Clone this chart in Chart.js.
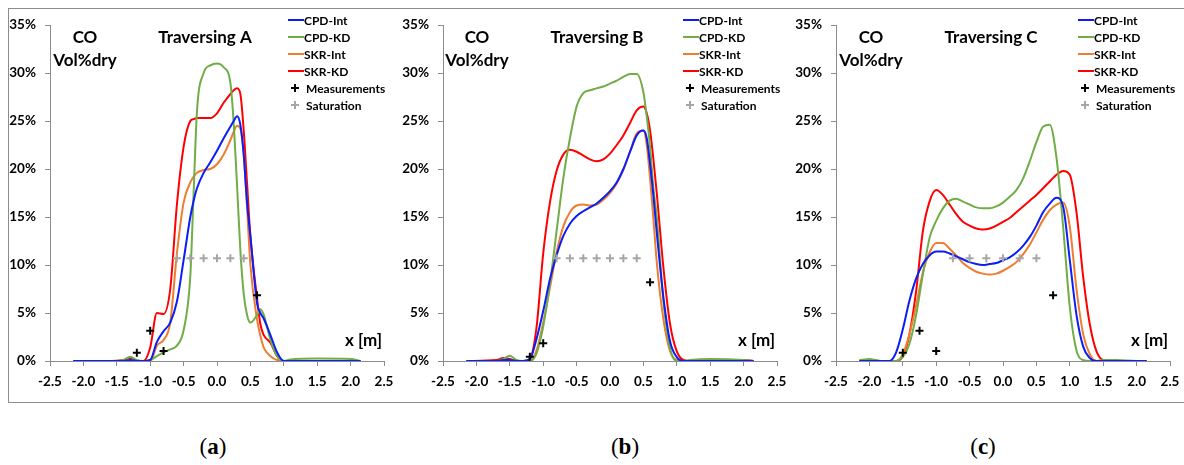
<!DOCTYPE html>
<html>
<head>
<meta charset="utf-8">
<script src="https://cdn.jsdelivr.net/npm/chart.js@4.4.0/dist/chart.umd.min.js"></script>
<style>
    body { margin: 0; background: #fff; width: 1184px; height: 465px; position: relative; overflow: hidden; }
    #frame { position: absolute; left: 8px; top: 8px; width: 1190px; height: 393px; border: 1px solid #8c8c8c; }
    canvas { position: absolute; top: 0; }
    .cap { position: absolute; top: 434px; font: 23px "Liberation Serif", serif; transform: translateX(-50%); }
</style>
</head>
<body>
<div id="frame"></div>
<canvas id="chartA" width="393" height="400" style="left:0px"></canvas>
<canvas id="chartB" width="393" height="400" style="left:393px"></canvas>
<canvas id="chartC" width="393" height="400" style="left:786px"></canvas>
<div class="cap" style="left:213px">(<b>a</b>)</div>
<div class="cap" style="left:625px">(<b>b</b>)</div>
<div class="cap" style="left:983px">(<b>c</b>)</div>

<script>
// ---- Traversing A ----
const xA = [-2.15, -1.6, -1.4, -1.3, -1.2, -1.1, -1.0, -0.9, -0.8, -0.7, -0.6, -0.5, -0.4, -0.35, -0.3, -0.2, -0.1, 0, 0.1, 0.2, 0.25, 0.3, 0.35, 0.4, 0.45, 0.5, 0.6, 0.65, 0.7, 0.8, 0.9, 1.0, 1.1, 1.5, 2.0, 2.15];
const cpdIntA = [0, 0, 0, 0.1, 0, 0, 0.1, 2.0, 3.1, 4.0, 6.2, 10.5, 15.0, 16.7, 18.0, 19.6, 20.7, 21.9, 23.2, 24.4, 25.0, 25.5, 24.6, 21.5, 16.5, 13.0, 6.0, 5.0, 4.4, 2.7, 0.9, 0, 0, 0, 0, 0];
const cpdKdA = [0, 0, 0.1, 0.45, 0.1, 0, 0.1, 0.5, 0.9, 1.2, 1.6, 3.2, 8.8, 17.5, 26.0, 30.0, 30.8, 31.0, 30.6, 29.0, 24.8, 18.3, 11.5, 7.0, 4.8, 4.0, 4.8, 5.4, 4.8, 2.2, 0.5, 0, 0.15, 0.25, 0.2, 0];
const skrIntA = [0, 0, 0, 0.1, 0, 0, 0, 1.6, 2.2, 4.0, 11.2, 16.5, 18.6, 19.2, 19.6, 19.9, 20.0, 20.5, 21.5, 23.0, 23.9, 24.5, 24.2, 21.5, 16.0, 10.0, 4.3, 2.6, 1.4, 0.5, 0.1, 0, 0, 0, 0, 0];
const skrKdA = [0, 0, 0.1, 0.3, 0, 0, 1.4, 5.0, 4.9, 7.5, 16.3, 22.3, 25.0, 25.2, 25.3, 25.3, 25.3, 25.8, 26.9, 27.8, 28.2, 28.4, 27.8, 24.0, 18.5, 13.0, 6.5, 3.8, 2.7, 1.9, 0.5, 0, 0, 0, 0, 0];
const measXA = [-1.2, -1.0, -0.8, 0.6];
const measYA = [0.87, 3.16, 1.04, 6.84];
const satXA = [-0.6, -0.4, -0.2, 0, 0.2, 0.4];
const satYA = [10.7, 10.7, 10.7, 10.7, 10.7, 10.7];

// ---- Traversing B ----
const xB = [-2.15, -1.7, -1.6, -1.5, -1.4, -1.3, -1.2, -1.1, -1.0, -0.9, -0.8, -0.7, -0.6, -0.5, -0.4, -0.3, -0.2, -0.1, 0, 0.1, 0.2, 0.3, 0.4, 0.5, 0.55, 0.6, 0.65, 0.7, 0.8, 0.9, 1.0, 1.1, 1.2, 1.5, 2.0, 2.15];
const cpdIntB = [0, 0, 0.1, 0.1, 0, 0, 0.2, 2.3, 5.2, 8.5, 11.0, 13.0, 14.3, 15.1, 15.6, 16.0, 16.4, 17.0, 17.7, 18.6, 20.0, 21.8, 23.5, 24.0, 23.2, 20.5, 17.2, 13.4, 6.6, 2.0, 0.4, 0, 0, 0, 0, 0];
const cpdKdB = [0, 0, 0.2, 0.55, 0.1, 0, 0, 0.8, 3.6, 8.0, 13.5, 19.0, 23.2, 26.5, 27.9, 28.2, 28.4, 28.6, 28.9, 29.2, 29.6, 29.9, 29.9, 28.0, 25.5, 22.3, 18.0, 15.0, 6.2, 1.3, 0, 0, 0.1, 0.2, 0.1, 0];
const skrIntB = [0, 0, 0, 0.1, 0, 0, 0, 1.1, 4.0, 7.6, 11.3, 14.0, 15.5, 16.2, 16.3, 16.2, 16.3, 16.8, 17.5, 18.5, 19.9, 21.8, 23.7, 24.0, 22.5, 19.0, 14.8, 10.3, 4.3, 1.0, 0.1, 0, 0, 0, 0, 0];
const skrKdB = [0, 0.1, 0.3, 0.2, 0, 0, 0.2, 3.5, 11.2, 16.5, 19.8, 21.5, 22.0, 21.8, 21.4, 21.0, 20.8, 21.0, 21.6, 22.5, 23.5, 24.8, 26.1, 26.5, 25.8, 24.0, 21.0, 17.5, 9.7, 3.8, 1.0, 0.1, 0, 0.1, 0.1, 0];
const measXB = [-1.2, -1.0, 0.6];
const measYB = [0.45, 1.84, 8.2];
const satXB = [-0.8, -0.6, -0.4, -0.2, 0, 0.2, 0.4];
const satYB = [10.7, 10.7, 10.7, 10.7, 10.7, 10.7, 10.7];

// ---- Traversing C ----
const xC = [-2.15, -2.0, -1.9, -1.8, -1.7, -1.6, -1.5, -1.4, -1.3, -1.2, -1.1, -1.0, -0.9, -0.8, -0.7, -0.6, -0.5, -0.4, -0.3, -0.2, -0.1, 0, 0.1, 0.2, 0.3, 0.4, 0.5, 0.6, 0.7, 0.8, 0.9, 1.0, 1.1, 1.2, 1.3, 1.4, 1.5, 1.7, 2.0, 2.15];
const cpdIntC = [0, 0, 0, 0, 0, 0.9, 3.3, 6.3, 8.6, 10.1, 11.0, 11.4, 11.4, 11.2, 10.9, 10.6, 10.3, 10.1, 10.0, 10.1, 10.2, 10.5, 10.8, 11.3, 12.0, 12.9, 14.1, 15.5, 16.4, 17.0, 16.1, 10.5, 4.8, 1.5, 0.3, 0, 0, 0, 0, 0];
const cpdKdC = [0.1, 0.2, 0.1, 0, 0, 0, 0.4, 1.8, 4.8, 9.0, 12.8, 14.6, 15.9, 16.7, 16.9, 16.6, 16.3, 16.0, 15.9, 15.9, 16.1, 16.5, 17.1, 17.8, 19.0, 20.8, 22.8, 24.4, 24.6, 21.2, 14.0, 5.6, 1.1, 0.1, 0, 0, 0.1, 0.1, 0, 0];
const skrIntC = [0, 0, 0, 0, 0, 0, 0.7, 2.8, 5.8, 9.2, 11.3, 12.3, 12.3, 11.7, 11.0, 10.2, 9.7, 9.3, 9.1, 9.0, 9.1, 9.4, 9.8, 10.3, 11.1, 12.1, 13.4, 14.7, 15.7, 16.3, 16.5, 14.0, 7.5, 2.8, 0.7, 0, 0, 0, 0, 0];
const skrKdC = [0, 0, 0, 0, 0, 0, 0.5, 2.8, 7.3, 13.5, 16.6, 17.8, 17.3, 16.3, 15.3, 14.5, 14.1, 13.8, 13.7, 13.8, 14.1, 14.5, 14.9, 15.5, 16.1, 16.7, 17.3, 18.0, 18.7, 19.4, 19.8, 19.4, 15.5, 8.8, 3.8, 1.0, 0.1, 0, 0, 0];
const measXC = [-1.5, -1.25, -1.0, 0.75];
const measYC = [0.87, 3.16, 1.04, 6.84];
const satXC = [-0.75, -0.5, -0.25, 0, 0.25, 0.5];
const satYC = [10.7, 10.7, 10.7, 10.7, 10.7, 10.7];

const xTicks = [-2.5, -2.0, -1.5, -1.0, -0.5, 0, 0.5, 1.0, 1.5, 2.0, 2.5];
const yTicks = [0, 5, 10, 15, 20, 25, 30, 35];

const seriesNames = ['CPD-Int', 'CPD-KD', 'SKR-Int', 'SKR-KD', 'Measurements', 'Saturation'];
const seriesColors = ['#0a1ef5', '#70ad47', '#ed7d31', '#ff0000', '#000000', '#a6a6a6'];

const FONT = 'Lato, "Open Sans", sans-serif';
const axisGray = '#8c8c8c';

function pts(xs, ys) {
    return xs.map((x, i) => ({ x: x, y: ys[i] }));
}

// titles, legend and axis caption drawn inside the plot
const panelText = {
    id: 'panelText',
    afterDraw(chart, args, opts) {
        const ctx = chart.ctx;
        ctx.save();
        ctx.fillStyle = '#000';
        ctx.textBaseline = 'middle';
        ctx.textAlign = 'center';
        ctx.font = 'bold 17px ' + FONT;
        ctx.fillText('CO', opts.coX, 38);
        ctx.fillText('Vol%dry', opts.coX, 61);
        ctx.fillText(opts.title, opts.titleX, 38);
        ctx.textAlign = 'right';
        ctx.fillText('x [m]', 382, 341);

        // legend
        ctx.textAlign = 'left';
        ctx.font = 'bold 12px ' + FONT;
        const lx = opts.legendX;
        seriesNames.forEach((name, i) => {
            const y = 20 + i * 17;
            ctx.strokeStyle = seriesColors[i];
            ctx.lineWidth = 2;
            ctx.beginPath();
            if (i < 4) {
                ctx.moveTo(lx, y);
                ctx.lineTo(lx + 16, y);
            } else {
                ctx.moveTo(lx + 3, y);
                ctx.lineTo(lx + 11, y);
                ctx.moveTo(lx + 7, y - 4);
                ctx.lineTo(lx + 7, y + 4);
            }
            ctx.stroke();
            ctx.fillText(name, lx + (i < 4 ? 16 : 18), y + 1);
        });
        ctx.restore();
    }
};

function makePanel(id, xs, lines, mx, my, sx, sy, opts) {
    const datasets = lines.map((vals, i) => ({
        label: seriesNames[i],
        data: pts(xs, vals),
        borderColor: seriesColors[i],
        borderWidth: 2,
        pointRadius: 0,
        fill: false,
        cubicInterpolationMode: 'monotone',
        order: 2
    }));
    datasets.push({
        label: 'Measurements',
        data: pts(mx, my),
        showLine: false,
        pointStyle: 'cross',
        pointRadius: 4,
        borderWidth: 2,
        borderColor: '#000',
        order: 0
    });
    datasets.push({
        label: 'Saturation',
        data: pts(sx, sy),
        showLine: false,
        pointStyle: 'cross',
        pointRadius: 4,
        borderWidth: 2,
        borderColor: '#a6a6a6',
        order: 1
    });

    new Chart(document.getElementById(id), {
        type: 'line',
        data: { datasets: datasets },
        options: {
            responsive: false,
            devicePixelRatio: 1,
            animation: false,
            layout: { padding: { top: 25, right: 9, left: 0, bottom: 0 } },
            plugins: {
                legend: { display: false },
                tooltip: { enabled: false },
                panelText: opts
            },
            scales: {
                x: {
                    type: 'linear',
                    min: -2.5,
                    max: 2.5,
                    afterBuildTicks: s => { s.ticks = xTicks.map(v => ({ value: v })); },
                    afterFit: s => { s.height = 39; s.paddingLeft = 0; s.paddingRight = 0; },
                    ticks: {
                        callback: v => v.toFixed(1),
                        color: '#000',
                        font: { family: FONT, size: 13.5, weight: 'bold' },
                        padding: 8,
                        maxRotation: 0,
                        autoSkip: false
                    },
                    grid: { drawOnChartArea: false, tickLength: 5, color: axisGray },
                    border: { color: axisGray, width: 1 }
                },
                y: {
                    min: 0,
                    max: 35,
                    afterBuildTicks: s => { s.ticks = yTicks.map(v => ({ value: v })); },
                    afterFit: s => { s.width = 50; s.paddingTop = 0; s.paddingBottom = 0; },
                    ticks: {
                        callback: v => v + '%',
                        color: '#000',
                        font: { family: FONT, size: 13.5, weight: 'bold' },
                        padding: 9
                    },
                    grid: { drawOnChartArea: false, tickLength: 5, color: axisGray },
                    border: { color: axisGray, width: 1 }
                }
            }
        },
        plugins: [panelText]
    });
}

makePanel('chartA', xA, [cpdIntA, cpdKdA, skrIntA, skrKdA], measXA, measYA, satXA, satYA,
    { title: 'Traversing A', coX: 85, titleX: 205, legendX: 288 });
makePanel('chartB', xB, [cpdIntB, cpdKdB, skrIntB, skrKdB], measXB, measYB, satXB, satYB,
    { title: 'Traversing B', coX: 84, titleX: 204, legendX: 290 });
makePanel('chartC', xC, [cpdIntC, cpdKdC, skrIntC, skrKdC], measXC, measYC, satXC, satYC,
    { title: 'Traversing C', coX: 85, titleX: 205, legendX: 292 });
</script>
</body>
</html>
